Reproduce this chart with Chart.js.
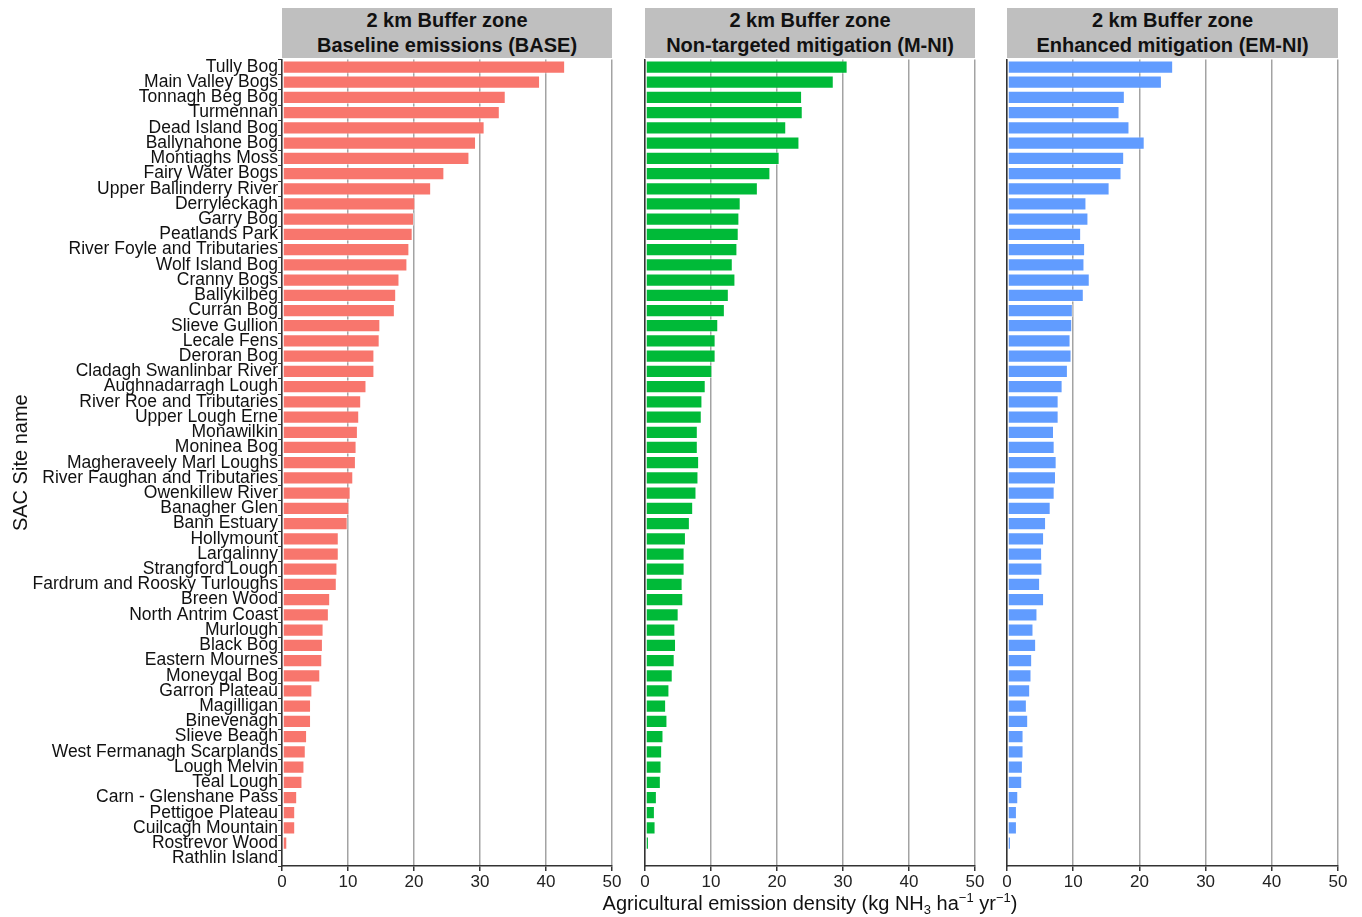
<!DOCTYPE html>
<html>
<head>
<meta charset="utf-8">
<script src="https://cdn.jsdelivr.net/npm/chart.js@4.4.1/dist/chart.umd.min.js"></script>
<style>
  body { margin: 0; background: #fff; font-family: "Liberation Sans", Arial, sans-serif; }
  #wrap { position: relative; width: 1362px; height: 917px; overflow: hidden; }
  canvas { position: absolute; left: 0; top: 0; }
  .strip { position: absolute; top: 8px; height: 50px; background: #bfbfbf; font-weight: bold;
           font-size: 20px; line-height: 25px; text-align: center; color: #111; }
  #xtitle { position: absolute; left: 410px; width: 800px; top: 892px; text-align: center;
            font-size: 20px; line-height: 22px; color: #111; }
  #xtitle sub, #xtitle sup { font-size: 13px; vertical-align: baseline; position: relative; }
  #xtitle sub { top: 4px; }
  #xtitle sup { top: -8px; }
</style>
</head>
<body>
<div id="wrap">
  <canvas id="base" width="1362" height="917"></canvas>
  <canvas id="mni" width="1362" height="917"></canvas>
  <canvas id="emni" width="1362" height="917"></canvas>
  <div class="strip" style="left:282px;width:330px">2 km Buffer zone<br>Baseline emissions (BASE)</div>
  <div class="strip" style="left:645px;width:330px">2 km Buffer zone<br>Non-targeted mitigation (M-NI)</div>
  <div class="strip" style="left:1007px;width:331px">2 km Buffer zone<br>Enhanced mitigation (EM-NI)</div>
  <div id="xtitle">Agricultural emission density (kg NH<sub>3</sub> ha<sup>−1</sup> yr<sup>−1</sup>)</div>
</div>
<script>
const sites = [
  'Tully Bog', 'Main Valley Bogs', 'Tonnagh Beg Bog', 'Turmennan', 'Dead Island Bog',
  'Ballynahone Bog', 'Montiaghs Moss', 'Fairy Water Bogs', 'Upper Ballinderry River', 'Derryleckagh',
  'Garry Bog', 'Peatlands Park', 'River Foyle and Tributaries', 'Wolf Island Bog', 'Cranny Bogs',
  'Ballykilbeg', 'Curran Bog', 'Slieve Gullion', 'Lecale Fens', 'Deroran Bog',
  'Cladagh Swanlinbar River', 'Aughnadarragh Lough', 'River Roe and Tributaries', 'Upper Lough Erne', 'Monawilkin',
  'Moninea Bog', 'Magheraveely Marl Loughs', 'River Faughan and Tributaries', 'Owenkillew River', 'Banagher Glen',
  'Bann Estuary', 'Hollymount', 'Largalinny', 'Strangford Lough', 'Fardrum and Roosky Turloughs',
  'Breen Wood', 'North Antrim Coast', 'Murlough', 'Black Bog', 'Eastern Mournes',
  'Moneygal Bog', 'Garron Plateau', 'Magilligan', 'Binevenagh', 'Slieve Beagh',
  'West Fermanagh Scarplands', 'Lough Melvin', 'Teal Lough', 'Carn - Glenshane Pass', 'Pettigoe Plateau',
  'Cuilcagh Mountain', 'Rostrevor Wood', 'Rathlin Island'
];

// BASE
const baseValues = [
  42.9, 39.1, 33.9, 33.0, 30.7, 29.4, 28.4, 24.6, 22.6, 20.2,
  20.0, 19.8, 19.3, 19.0, 17.8, 17.3, 17.1, 14.9, 14.8, 14.0,
  14.0, 12.8, 12.0, 11.7, 11.5, 11.3, 11.2, 10.8, 10.4, 10.2,
  9.95, 8.6, 8.6, 8.4, 8.3, 7.3, 7.1, 6.3, 6.2, 6.1,
  5.8, 4.6, 4.4, 4.4, 3.8, 3.6, 3.4, 3.1, 2.3, 2.0,
  2.0, 0.8, 0.25
];

// M-NI
const mniValues = [
  30.7, 28.6, 23.8, 23.9, 21.4, 23.4, 20.4, 19.0, 17.1, 14.5,
  14.3, 14.2, 14.0, 13.3, 13.7, 12.7, 12.1, 11.1, 10.7, 10.7,
  10.2, 9.2, 8.7, 8.6, 8.0, 8.0, 8.2, 8.1, 7.8, 7.3,
  6.8, 6.2, 6.0, 6.0, 5.7, 5.8, 5.1, 4.6, 4.7, 4.5,
  4.2, 3.7, 3.2, 3.4, 2.8, 2.6, 2.5, 2.4, 1.8, 1.5,
  1.6, 0.6, 0.25
];

// EM-NI
const emniValues = [
  25.1, 23.4, 17.8, 17.0, 18.5, 20.8, 17.7, 17.3, 15.5, 12.0,
  12.3, 11.2, 11.8, 11.7, 12.5, 11.6, 9.95, 9.85, 9.6, 9.75,
  9.2, 8.4, 7.8, 7.8, 7.1, 7.2, 7.5, 7.4, 7.2, 6.6,
  5.9, 5.6, 5.3, 5.35, 5.0, 5.6, 4.6, 4.0, 4.4, 3.8,
  3.7, 3.5, 3.0, 3.2, 2.5, 2.5, 2.4, 2.3, 1.7, 1.5,
  1.5, 0.6, 0.25
];

const xMin = 0, xMax = 50, xStep = 10;

Chart.defaults.font.family = '"Liberation Sans", Arial, sans-serif';

// area de dibujo comun a los tres paneles
const plotTop = 59.4, plotBottom = 866, xAxisHeight = 30;

function makePanel(canvasId, values, colour, left, right, showLabels) {
  new Chart(document.getElementById(canvasId), {
    type: 'bar',
    data: {
      labels: sites,
      datasets: [{
        data: values,
        backgroundColor: colour,
        borderColor: 'rgba(255,255,255,0.45)',
        borderWidth: 1,
        borderSkipped: false,
        barPercentage: 0.87,
        categoryPercentage: 1
      }]
    },
    options: {
      indexAxis: 'y',
      responsive: false,
      animation: false,
      layout: {
        padding: {
          left: showLabels ? 0 : left,
          right: 1362 - right,
          top: plotTop,
          bottom: 917 - plotBottom - xAxisHeight
        }
      },
      plugins: { legend: { display: false }, tooltip: { enabled: false } },
      scales: {
        x: {
          min: xMin, max: xMax,
          ticks: { stepSize: xStep, color: '#222', font: { size: 17 }, padding: 1, maxRotation: 0 },
          grid: { color: '#a3a3a3', lineWidth: 1.5, tickColor: '#333', tickLength: 5 },
          border: { color: '#333', width: 1.5 },
          afterFit: s => { s.height = xAxisHeight; s.paddingLeft = 0; s.paddingRight = 0; }
        },
        y: {
          ticks: { display: showLabels, color: '#111', font: { size: 17.5 }, padding: 0, autoSkip: false },
          grid: { display: true, drawOnChartArea: false, drawTicks: showLabels, tickLength: 4, tickColor: '#333' },
          border: { color: '#333', width: 1.5, z: 1 },
          title: {
            display: showLabels, text: 'SAC Site name', color: '#111',
            font: { size: 20 }, padding: { top: 9, bottom: 0 }
          },
          afterFit: s => { s.width = showLabels ? left : 0; s.paddingTop = 0; s.paddingBottom = 0; }
        }
      }
    }
  });
}

makePanel('base', baseValues, '#F8766D', 282, 612, true);
makePanel('mni', mniValues, '#00BA38', 645, 975, false);
makePanel('emni', emniValues, '#619CFF', 1007, 1338, false);
</script>
</body>
</html>
